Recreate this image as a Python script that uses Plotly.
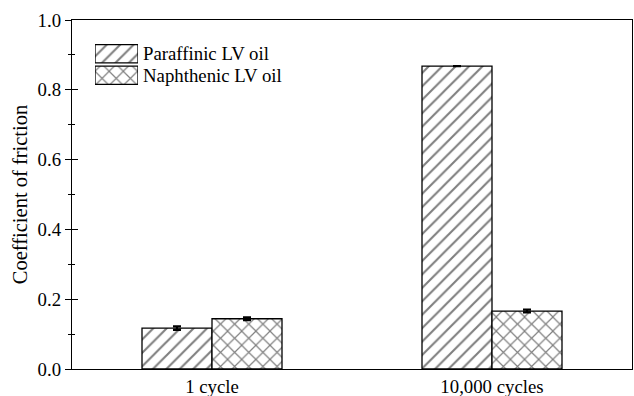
import plotly.graph_objects as go

categories = ["1 cycle", "10,000 cycles"]
paraffinic = [0.117, 0.868]
paraffinic_err = [0.005, None]
naphthenic = [0.144, 0.166]
naphthenic_err = [0.004, 0.004]
series_names = ["Paraffinic LV oil", "Naphthenic LV oil"]
patterns = ["/", "x"]
pattern_sizes = [9.5, 10]

FS = 18.8
FAMILY = "Liberation Serif, Times New Roman, serif"
font = dict(family=FAMILY, size=FS, color="black")
title_font = dict(family=FAMILY, size=20.5, color="black")


def marker(shape, size):
    return dict(color="white", line=dict(color="black", width=1.3),
                pattern=dict(shape=shape, fgcolor="black", bgcolor="white",
                             size=size, solidity=0.22))


fig = go.Figure()
fig.add_trace(go.Bar(
    x=categories, y=paraffinic, name=series_names[0], marker=marker(patterns[0], pattern_sizes[0]),
    error_y=dict(type="data", array=paraffinic_err, color="black", thickness=2.2, width=4),
    showlegend=False,
))
fig.add_trace(go.Bar(
    x=categories, y=naphthenic, name=series_names[1], marker=marker(patterns[1], pattern_sizes[1]),
    error_y=dict(type="data", array=naphthenic_err, color="black", thickness=2.2, width=4),
    showlegend=False,
))
# overlay axis providing the inward half of the crossing ticks
fig.add_trace(go.Scatter(x=[None], y=[None], yaxis="y2", showlegend=False, hoverinfo="skip"))

# legend swatches: patterned boxes on a small dedicated axis pair
for name, shape, sz in zip(series_names, patterns, pattern_sizes):
    fig.add_trace(go.Bar(
        x=[1], y=[name], orientation="h", xaxis="x2", yaxis="y3",
        marker=marker(shape, sz), showlegend=False, hoverinfo="skip", width=0.84,
    ))

x0 = (95 - 72) / 560
x1 = (138 - 72) / 560
y0 = (369 - 86) / 349
y1 = (369 - 43) / 349

annotations = []
for i, name in enumerate(series_names):
    yc = y1 - (y1 - y0) * (0.25 + 0.5 * i)
    annotations.append(dict(text=name, x=x1 + 0.006, y=yc, xref="paper", yref="paper",
                            xanchor="left", yanchor="middle", showarrow=False,
                            font=font))

fig.update_layout(
    width=634, height=396,
    margin=dict(l=72, r=2, t=20, b=27),
    paper_bgcolor="white", plot_bgcolor="white",
    font=font,
    barmode="group", bargap=0.5, bargroupgap=0,
    showlegend=False,
    annotations=annotations,
    xaxis=dict(showline=True, linecolor="black", linewidth=1.3, mirror=True,
               ticks="", showgrid=False, tickfont=font, automargin=False),
    yaxis=dict(range=[0, 1.0], dtick=0.2, tickformat=".1f", showline=True,
               linecolor="black", linewidth=1.3, mirror=True,
               ticks="outside", ticklen=6, tickwidth=1.2, tickcolor="black",
               minor=dict(dtick=0.1, ticks="outside", ticklen=3, tickwidth=1.2, tickcolor="black"),
               showgrid=False, zeroline=False, tickfont=font, automargin=False,
               title=dict(text="Coefficient of friction", font=title_font, standoff=4)),
    yaxis2=dict(range=[0, 1.0], dtick=0.2, overlaying="y", side="left",
                ticks="inside", ticklen=6, tickwidth=1.2, tickcolor="black",
                minor=dict(dtick=0.1, ticks="inside", ticklen=3, tickwidth=1.2, tickcolor="black"),
                showticklabels=False, showgrid=False, zeroline=False, showline=False),
    xaxis2=dict(domain=[x0, x1], range=[0, 1], anchor="y3", visible=False, fixedrange=True),
    yaxis3=dict(domain=[y0, y1], anchor="x2", visible=False, autorange="reversed",
                categoryorder="array", categoryarray=series_names, fixedrange=True),
)

fig.write_html("out.html")
